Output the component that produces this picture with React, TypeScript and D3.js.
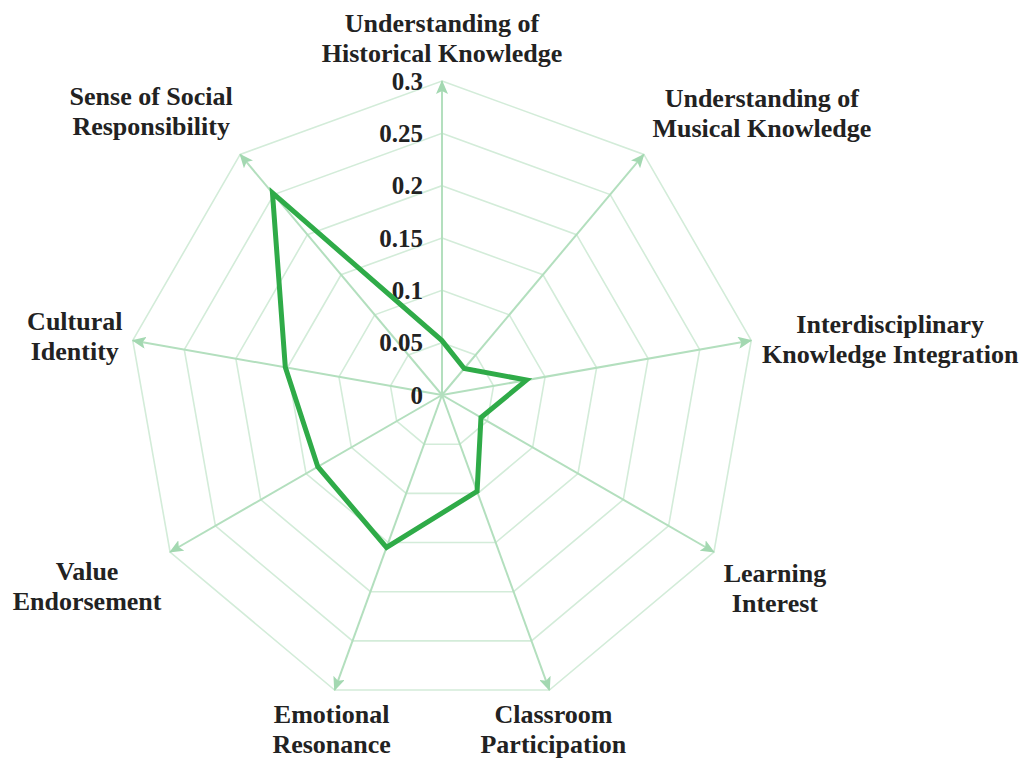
import React, { useEffect, useRef } from "react";
import * as d3 from "d3";

// axis names (two lines each) and the series values
const indicators = [
  ["Understanding of", "Historical Knowledge"],
  ["Understanding of", "Musical Knowledge"],
  ["Interdisciplinary", "Knowledge Integration"],
  ["Learning", "Interest"],
  ["Classroom", "Participation"],
  ["Emotional", "Resonance"],
  ["Value", "Endorsement"],
  ["Cultural", "Identity"],
  ["Sense of Social", "Responsibility"],
];
const values = [0.052, 0.033, 0.082, 0.043, 0.098, 0.155, 0.137, 0.152, 0.252];
const ticks = [0, 0.05, 0.1, 0.15, 0.2, 0.25, 0.3];
const tickLabels = ["0", "0.05", "0.1", "0.15", "0.2", "0.25", "0.3"];

// label offsets from each axis tip (layout only)
const labelOffsets: [number, number][] = [
  [0, -49], [118, -47], [139, -7], [61, 30], [4, 33],
  [-3, 33], [-83, 28], [-58, -10], [-89, -49],
];

const W = 1030, H = 761;
const cx = 442, cy = 395, R = 314;

export default function App() {
  const ref = useRef<SVGSVGElement>(null);

  useEffect(() => {
    const svg = d3.select(ref.current);
    svg.selectAll("*").remove();

    const n = indicators.length;
    const angle = (i: number) => (2 * Math.PI * i) / n;
    const r = d3.scaleLinear().domain([0, 0.3]).range([0, R]);

    svg.append("defs").append("marker")
      .attr("id", "arrow")
      .attr("viewBox", "0 0 14 12")
      .attr("refX", 13)
      .attr("refY", 6)
      .attr("markerWidth", 14)
      .attr("markerHeight", 12)
      .attr("markerUnits", "userSpaceOnUse")
      .attr("orient", "auto")
      .append("path")
      .attr("d", "M0,0 L14,6 L0,12 L3,6 Z")
      .attr("fill", "#a3d8b1");

    const g = svg.append("g").attr("transform", `translate(${cx},${cy})`);

    // rings
    const ring = d3.lineRadial<number>()
      .angle((_, i) => angle(i))
      .radius((d) => r(d))
      .curve(d3.curveLinearClosed);
    ticks.slice(1).forEach((t) => {
      g.append("path")
        .attr("d", ring(indicators.map(() => t)))
        .attr("fill", "none")
        .attr("stroke", "#d3ecd9")
        .attr("stroke-width", 1.6);
    });

    // spokes with arrowheads
    indicators.forEach((_, i) => {
      const a = angle(i);
      g.append("line")
        .attr("x1", 0).attr("y1", 0)
        .attr("x2", r(0.3) * Math.sin(a))
        .attr("y2", -r(0.3) * Math.cos(a))
        .attr("stroke", "#b3dfbe")
        .attr("stroke-width", 2)
        .attr("marker-end", "url(#arrow)");
    });

    // tick labels along the top axis
    g.selectAll("text.tick")
      .data(ticks)
      .join("text")
      .attr("class", "tick")
      .attr("x", -19)
      .attr("y", (d) => -r(d))
      .attr("dy", "0.35em")
      .attr("text-anchor", "end")
      .attr("font-family", "'Liberation Serif', 'Times New Roman', serif")
      .attr("font-weight", "bold")
      .attr("font-size", 25)
      .attr("fill", "#222")
      .text((_, i) => tickLabels[i]);

    // data series
    g.append("path")
      .attr("d", ring(values))
      .attr("fill", "none")
      .attr("stroke", "#2fab48")
      .attr("stroke-width", 5)
      .attr("stroke-linejoin", "miter");

    // indicator names
    indicators.forEach((lines, i) => {
      const a = angle(i);
      const x = r(0.3) * Math.sin(a) + labelOffsets[i][0];
      const y = -r(0.3) * Math.cos(a) + labelOffsets[i][1];
      const t = g.append("text")
        .attr("text-anchor", "middle")
        .attr("font-family", "'Liberation Serif', 'Times New Roman', serif")
        .attr("font-weight", "bold")
        .attr("font-size", 26)
        .attr("fill", "#222");
      lines.forEach((s, j) => {
        t.append("tspan").attr("x", x).attr("y", y + j * 30).text(s);
      });
    });
  }, []);

  return (
    <div style={{ position: "absolute", left: 0, top: 0 }}>
      <svg ref={ref} width={W} height={H} style={{ background: "#fff", display: "block" }} />
    </div>
  );
}
